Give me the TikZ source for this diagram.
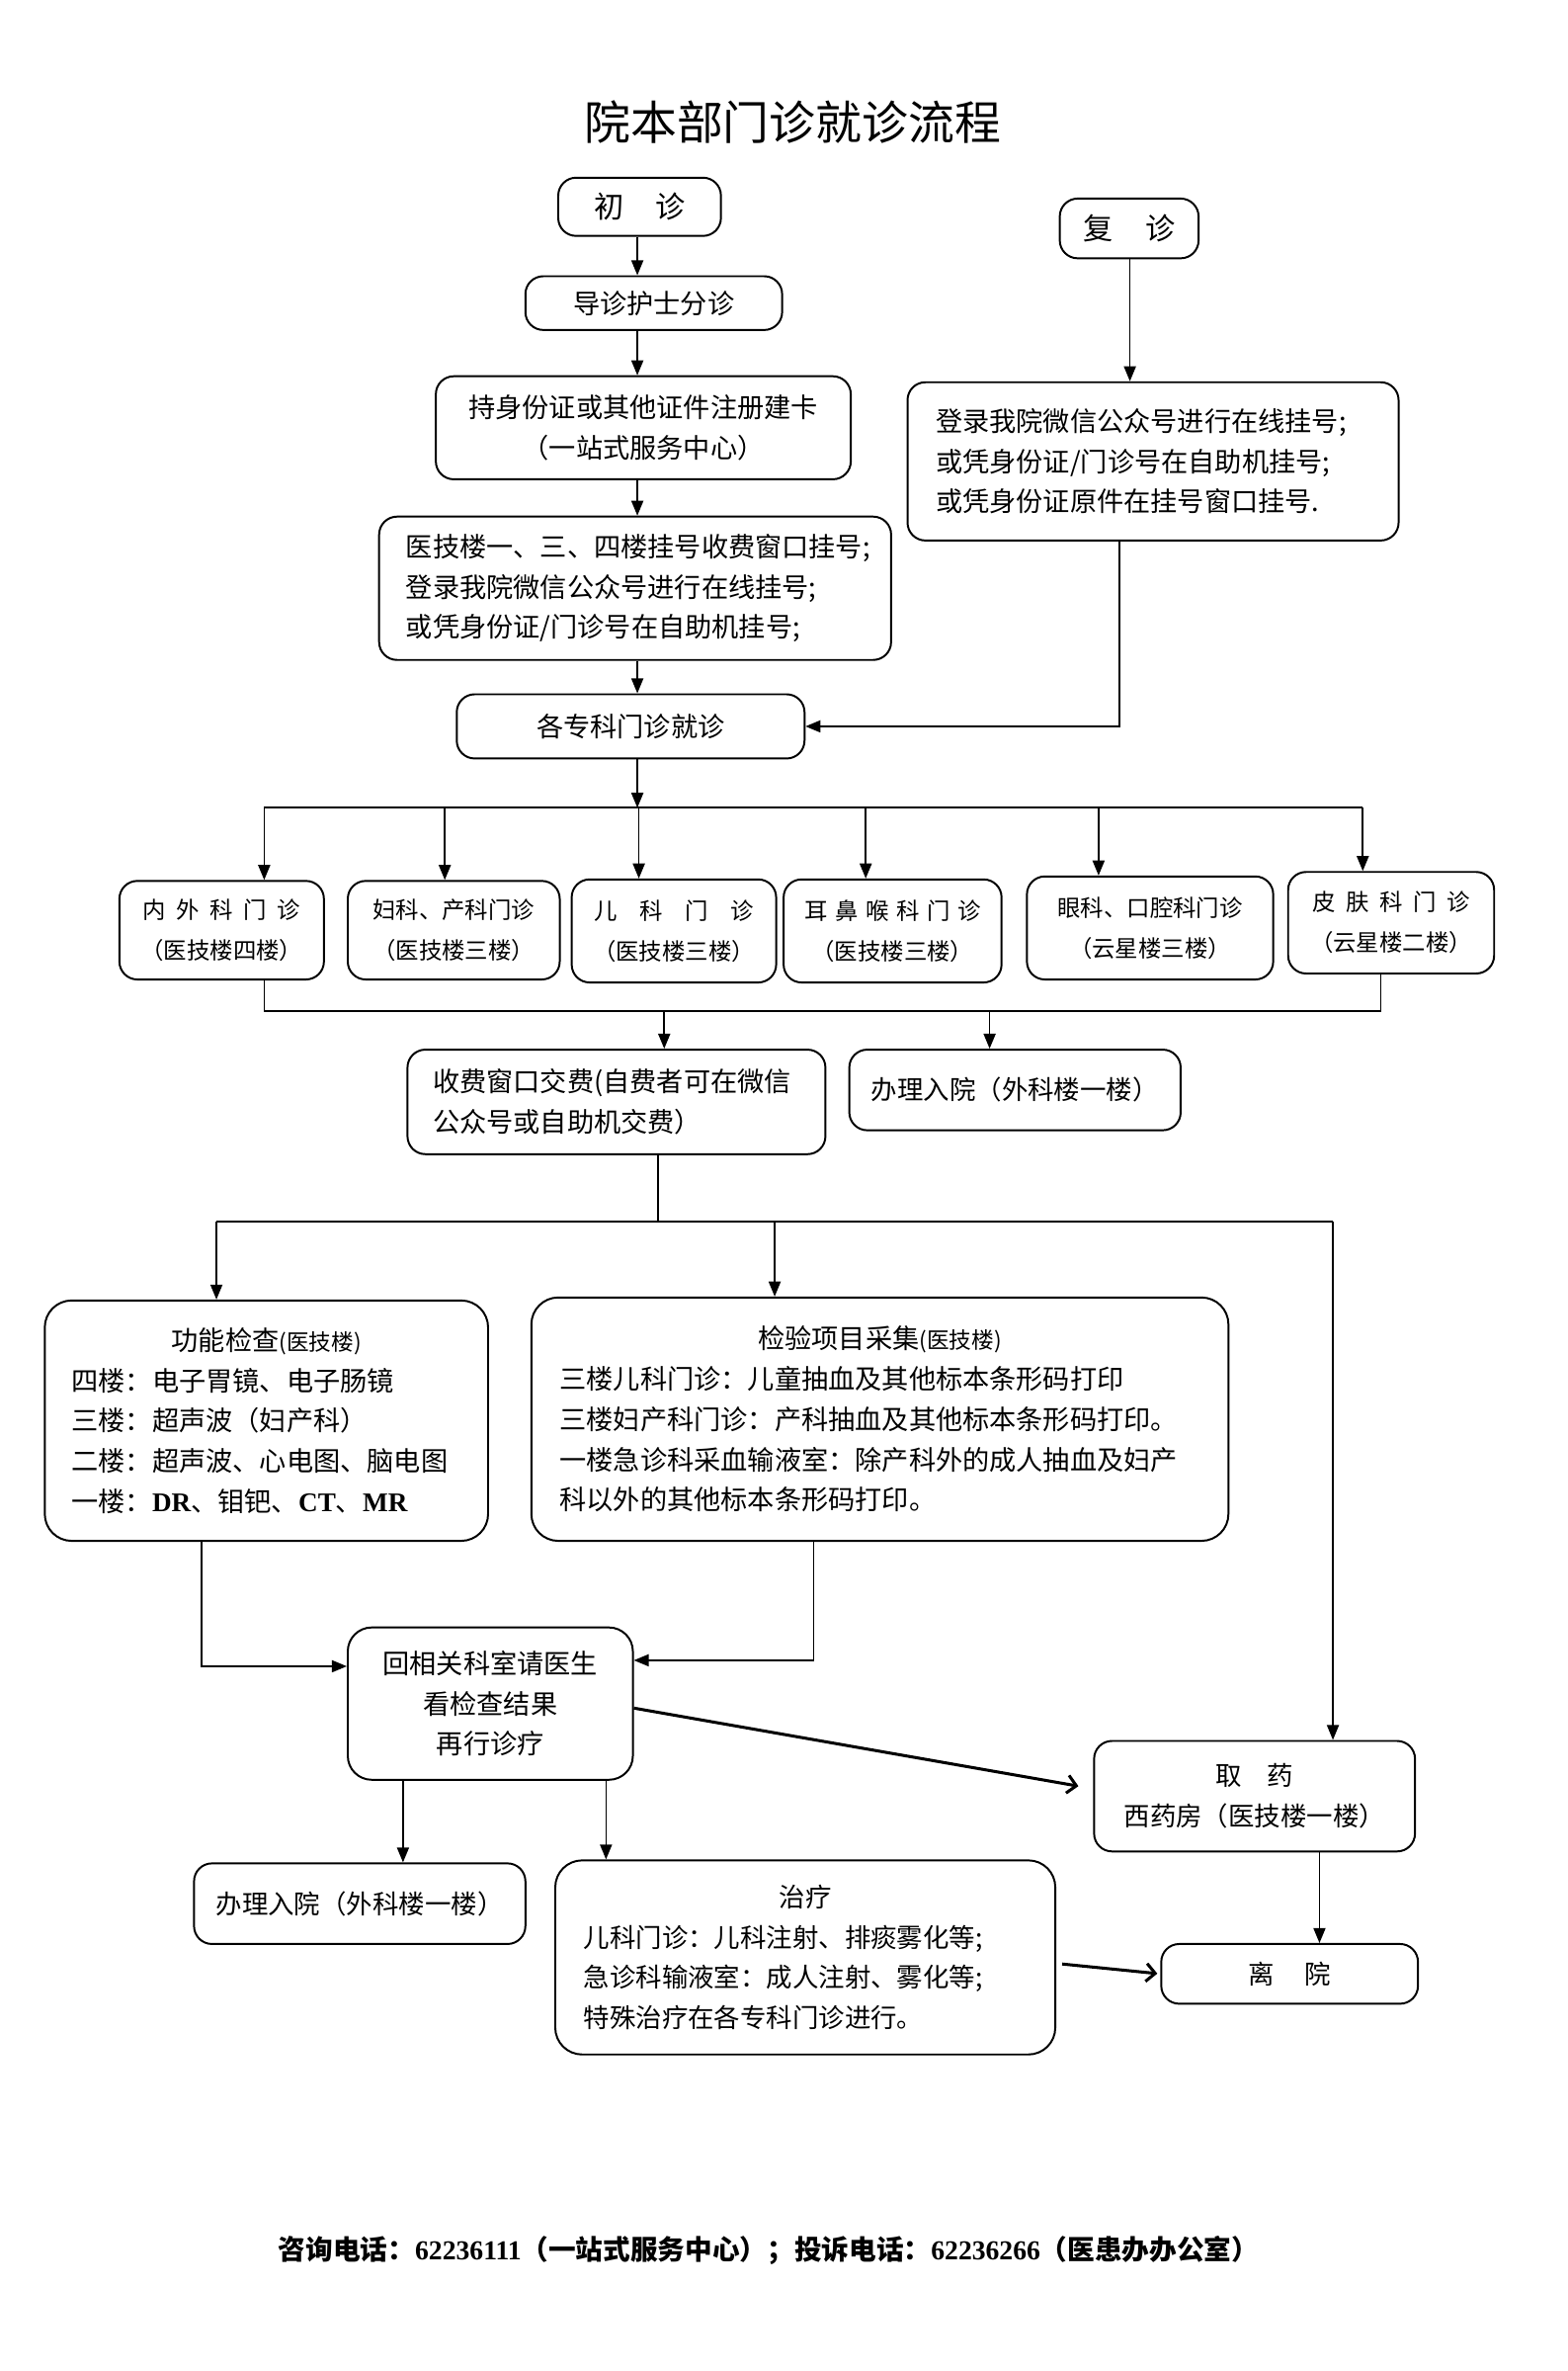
\documentclass[tikz,border=0pt]{standalone}
\usepackage{fontspec}
\setmainfont{Noto Sans CJK SC}
\newfontfamily\tnr{Liberation Serif}
\usetikzlibrary{arrows.meta,calc}
\newcommand\myfs[1]{\fontsize{#1pt}{27pt}\selectfont}
\begin{document}
\begin{tikzpicture}[x=1pt,y=-1pt,
  box/.style={draw, line width=1.3pt, rounded corners=12pt, inner sep=0pt, align=center, font=\myfs{18}},
  lbox/.style={box, align=left, inner xsep=18pt},
  dbox/.style={box, font=\myfs{15.5}},
  conn/.style={line width=1.1pt},
  arr/.style={conn, -{Triangle[length=10pt,width=8pt]}},
  barb/.style={line width=2pt, -{Straight Barb[length=6pt,width=12pt]}}]
\useasboundingbox (0,0) rectangle (1050,1588);
\fill[white] (0,0) rectangle (1050,1588);

% title
\node[font=\myfs{31}] (title) at (531,82) {院本部门诊就诊流程};

% top boxes
\node[box, minimum width=109pt, minimum height=39pt, font=\myfs{20}] (chuzhen) at (428.5,138.5) {初\hspace{21pt}诊};
\node[box, minimum width=93pt, minimum height=40pt, font=\myfs{20}] (fuzhen) at (756.5,153) {复\hspace{22pt}诊};
\node[box, minimum width=172pt, minimum height=36pt] (daozhen) at (438,203) {导诊护士分诊};
\node[box, minimum width=278pt, minimum height=69pt] (zhuce) at (431,286.5) {持身份证或其他证件注册建卡\\（一站式服务中心）};
\node[lbox, inner xsep=19pt, text width=291pt, minimum height=106pt] (fzreg) at (772.5,309)
  {登录我院微信公众号进行在线挂号;\\或凭身份证/门诊号在自助机挂号;\\或凭身份证原件在挂号窗口挂号.};
\node[lbox, text width=307pt, minimum height=96pt] (czreg) at (425.5,394)
  {医技楼一、三、四楼挂号收费窗口挂号;\\登录我院微信公众号进行在线挂号;\\或凭身份证/门诊号在自助机挂号;};
\node[box, minimum width=233pt, minimum height=43pt] (zhuanke) at (422.5,486.5) {各专科门诊就诊};

% department boxes
\node[dbox, minimum width=137pt, minimum height=66pt] (d1) at (148.5,623) {内\hspace{7pt}外\hspace{7pt}科\hspace{7pt}门\hspace{7pt}诊\\（医技楼四楼）};
\node[dbox, minimum width=142pt, minimum height=66pt] (d2) at (304,623) {妇科、产科门诊\\（医技楼三楼）};
\node[dbox, minimum width=137pt, minimum height=69pt] (d3) at (451.5,623.5) {儿\hspace{15pt}科\hspace{15pt}门\hspace{15pt}诊\\（医技楼三楼）};
\node[dbox, minimum width=146pt, minimum height=69pt] (d4) at (598,623.5) {耳\hspace{5pt}鼻\hspace{5pt}喉\hspace{5pt}科\hspace{5pt}门\hspace{5pt}诊\\（医技楼三楼）};
\node[dbox, minimum width=165pt, minimum height=69pt] (d5) at (770.5,621.5) {眼科、口腔科门诊\\（云星楼三楼）};
\node[dbox, minimum width=138pt, minimum height=68pt] (d6) at (932,618) {皮\hspace{7pt}肤\hspace{7pt}科\hspace{7pt}门\hspace{7pt}诊\\（云星楼二楼）};

% fee / admission
\node[lbox, inner xsep=17pt, text width=246pt, minimum height=70pt] (fee) at (413,738)
  {收费窗口交费(自费者可在微信\\公众号或自助机交费）};
\node[box, minimum width=222pt, minimum height=54pt, font=\myfs{17.5}] (ruyuanA) at (680,730) {办理入院（外科楼一楼）};

% examination boxes
\node[lbox, text width=261pt, minimum height=161pt, rounded corners=18pt] (gongneng) at (178.5,951.5)
  {\makebox[\hsize]{功能检查{\myfs{15}(医技楼)}}\\四楼：电子胃镜、电子肠镜\\三楼：超声波（妇产科）\\二楼：超声波、心电图、脑电图\\一楼：{\tnr\bfseries DR}、钼钯、{\tnr\bfseries CT}、{\tnr\bfseries MR}};
\node[lbox, inner xsep=19pt, text width=429pt, minimum height=163pt, rounded corners=18pt] (jianyan) at (589.5,950.5)
  {\makebox[\hsize]{检验项目采集{\myfs{15}(医技楼)}}\\三楼儿科门诊：儿童抽血及其他标本条形码打印\\三楼妇产科门诊：产科抽血及其他标本条形码打印。\\一楼急诊科采血输液室：除产科外的成人抽血及妇产\\科以外的其他标本条形码打印。};

% return / medication
\node[box, minimum width=191pt, minimum height=102pt, rounded corners=16pt] (huixiang) at (328.5,1141) {回相关科室请医生\\看检查结果\\再行诊疗};
\node[box, minimum width=215pt, minimum height=74pt, font=\myfs{17.5}] (quyao) at (840.5,1203) {取\hspace{17pt}药\\西药房（医技楼一楼）};
\node[box, minimum width=222pt, minimum height=54pt, font=\myfs{17.5}] (ruyuanB) at (241,1275) {办理入院（外科楼一楼）};
\node[lbox, inner xsep=19pt, text width=297pt, minimum height=130pt, rounded corners=18pt, font=\myfs{17.5}] (zhiliao) at (539.5,1311)
  {\makebox[\hsize]{治疗}\\儿科门诊：儿科注射、排痰雾化等;\\急诊科输液室：成人注射、雾化等;\\特殊治疗在各专科门诊进行。};
\node[box, minimum width=172pt, minimum height=40pt, font=\myfs{17.5}] (liyuan) at (864,1322) {离\hspace{20pt}院};

% footer
\node[font=\myfs{18.3}\bfseries] (footer) at (515,1507)
  {咨询电话：{\tnr 62236111}（一站式服务中心）；投诉电话：{\tnr 62236266}（医患办办公室）};

% helper coordinates
\coordinate (colA) at (427,0);
\coordinate (colF) at (757,0);
\coordinate (colG) at (750,0);
\coordinate (b1) at (177,0);
\coordinate (b2) at (298,0);
\coordinate (b3) at (428,0);
\coordinate (b4) at (580,0);
\coordinate (b5) at (736,0);
\coordinate (b6) at (913,0);
\coordinate (c6) at (925,0);
\coordinate (bus1) at (0,541);
\coordinate (bus2) at (0,677);
\coordinate (f1) at (445,0);
\coordinate (f2) at (663,0);
\coordinate (f0) at (441,0);
\coordinate (bus3) at (0,818);
\coordinate (e1) at (145,0);
\coordinate (e2) at (519,0);
\coordinate (e3) at (893,0);
\coordinate (g1) at (135,0);
\coordinate (h1) at (0,1116);
\coordinate (g2) at (545,0);
\coordinate (h2) at (0,1112);
\coordinate (k1) at (0,1144);
\coordinate (k2) at (0,1198);
\coordinate (r1) at (270,0);
\coordinate (r2) at (406,0);
\coordinate (q1) at (884,0);
\coordinate (m1) at (0,1315);
\coordinate (m2) at (0,1322);

% connectors, top
\draw[arr] (chuzhen.south -| colA) -- (colA |- daozhen.north);
\draw[arr] (daozhen.south -| colA) -- (colA |- zhuce.north);
\draw[arr] (zhuce.south -| colA) -- (colA |- czreg.north);
\draw[arr] (czreg.south -| colA) -- (colA |- zhuanke.north);
\draw[arr] (fuzhen.south -| colF) -- (colF |- fzreg.north);
\draw[arr] (fzreg.south -| colG) |- (zhuanke.east);

% to departments
\draw[arr] (zhuanke.south -| colA) -- (colA |- bus1);
\draw[conn] (b1 |- bus1) -- (b6 |- bus1);
\draw[arr] (b1 |- bus1) -- (b1 |- d1.north);
\draw[arr] (b2 |- bus1) -- (b2 |- d2.north);
\draw[arr] (b3 |- bus1) -- (b3 |- d3.north);
\draw[arr] (b4 |- bus1) -- (b4 |- d4.north);
\draw[arr] (b5 |- bus1) -- (b5 |- d5.north);
\draw[arr] (b6 |- bus1) -- (b6 |- d6.north);

% from departments
\draw[conn] (b1 |- d1.south) -- (b1 |- bus2) -- (c6 |- bus2) -- (c6 |- d6.south);
\draw[arr] (f1 |- bus2) -- (f1 |- fee.north);
\draw[arr] (f2 |- bus2) -- (f2 |- ruyuanA.north);

% after fee
\draw[conn] (fee.south -| f0) -- (f0 |- bus3);
\draw[conn] (e1 |- bus3) -- (e3 |- bus3);
\draw[arr] (e1 |- bus3) -- (e1 |- gongneng.north);
\draw[arr] (e2 |- bus3) -- (e2 |- jianyan.north);
\draw[arr] (e3 |- bus3) -- (e3 |- quyao.north);

% back to doctor
\draw[arr] (gongneng.south -| g1) |- (huixiang.west |- h1);
\draw[arr] (jianyan.south -| g2) |- (huixiang.east |- h2);

% onwards
\draw[barb, shorten >=10pt] (huixiang.east |- k1) -- (quyao.west |- k2);
\draw[arr] (huixiang.south -| r1) -- (r1 |- ruyuanB.north);
\draw[arr] (huixiang.south -| r2) -- (r2 |- zhiliao.north);
\draw[arr] (quyao.south -| q1) -- (q1 |- liyuan.north);
\draw[barb, shorten <=4pt, shorten >=2pt] (zhiliao.east |- m1) -- (liyuan.west |- m2);
\end{tikzpicture}
\end{document}
